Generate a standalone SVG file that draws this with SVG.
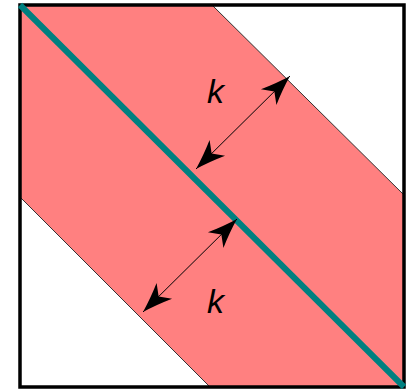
<svg xmlns="http://www.w3.org/2000/svg" width="409" height="389" viewBox="0 0 409 389">
<style>
.band{fill:#FF8080;stroke:none}
.edge{stroke:#333;stroke-width:1;fill:none}
.frame{fill:none;stroke:#000;stroke-width:3.5}
.diag{stroke:#008080;stroke-width:6;fill:none}
.dim{stroke:#000;stroke-width:1;fill:none;marker-start:url(#head);marker-end:url(#head)}
.lbl{font-family:"Liberation Sans",Arial,sans-serif;font-style:italic;font-size:34px;fill:#000}
</style>
<defs>
<marker id="head" markerUnits="userSpaceOnUse" markerWidth="40" markerHeight="30" refX="0" refY="0" viewBox="-32 -15 34 30" orient="auto-start-reverse" overflow="visible">
<path d="M0,0 Q-14,-4 -30,-11 L-22,0 L-30,11 Q-14,4 0,0 Z" fill="#000"/>
</marker>
</defs>
<g id="band">
<polygon class="band" points="20,5 212,5 404,195 404,387 210,387 20,197"/>
<line class="edge" x1="212" y1="5" x2="404" y2="195"/>
<line class="edge" x1="20" y1="197" x2="210" y2="387"/>
</g>
<g id="frame">
<rect class="frame" x="20" y="5" width="384" height="382"/>
</g>
<g id="diagonal">
<line class="diag" x1="20" y1="5" x2="404" y2="387"/>
</g>
<g id="connectors">
<line class="dim" x1="196" y1="169" x2="290" y2="76"/>
<line class="dim" x1="143" y1="312" x2="237" y2="219"/>
</g>
<g id="label-upper"><text class="lbl" x="207" y="103">k</text></g>
<g id="label-lower"><text class="lbl" x="207" y="313">k</text></g>
</svg>
